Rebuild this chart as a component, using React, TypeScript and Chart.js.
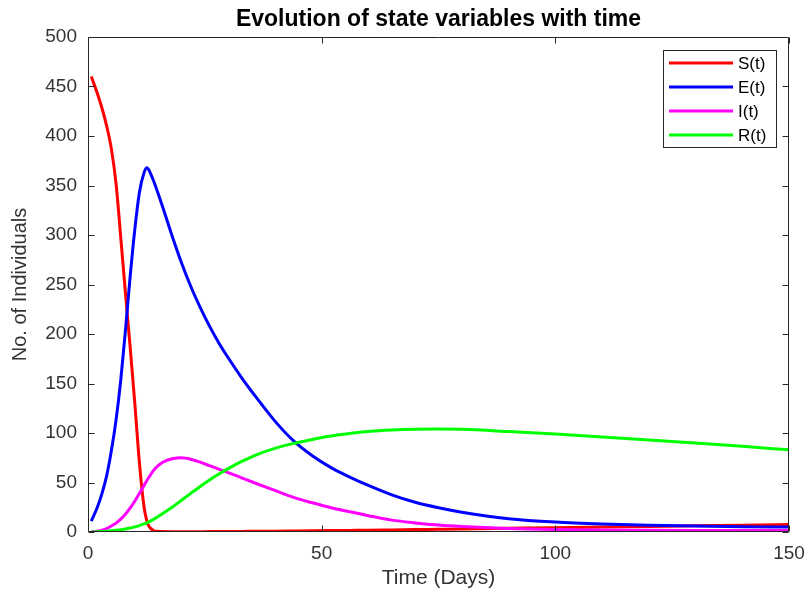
import React, { useEffect, useRef } from "react";
import { Chart, registerables } from "chart.js";

Chart.register(...registerables);

const TITLE = "Evolution of state variables with time";
const X_LABEL = "Time (Days)";
const Y_LABEL = "No. of Individuals";
const SERIES_NAMES = ["S(t)", "E(t)", "I(t)", "R(t)"];
const SERIES_COLORS = ["#ff0000", "#0000ff", "#ff00ff", "#00ff00"];
const X_TICKS = [0, 50, 100, 150];
const Y_TICKS = [0, 50, 100, 150, 200, 250, 300, 350, 400, 450, 500];

const TIME = [
  0.7, 2, 3, 4, 5, 6, 7, 8, 9, 10,
  11, 12, 12.6, 13, 14, 15, 16, 18, 20, 22,
  24, 26, 28, 30, 33, 36, 40, 44, 48, 52,
  56, 60, 65, 70, 75, 80, 90, 100, 110, 120,
  130, 140, 150,
];

const S_VALUES = [
  460, 443, 428, 410, 387, 352, 298, 242, 188, 131,
  70, 25, 11, 6, 1.5, 0.6, 0.4, 0.3, 0.3, 0.3,
  0.35, 0.4, 0.45, 0.5, 0.6, 0.7, 0.8, 1.0, 1.2, 1.4,
  1.6, 1.8, 2.1, 2.4, 2.7, 3.0, 3.7, 4.4, 5.0, 5.6,
  6.2, 6.9, 7.5,
];

const E_VALUES = [
  11, 25, 39, 57, 82, 113, 153, 203, 257, 305,
  343, 363, 368, 366, 355, 342, 328, 299, 272, 248,
  227, 208, 191, 176, 155, 136, 112, 92, 77, 65,
  55.5, 47, 37.5, 30, 24.5, 20, 13.5, 10, 8, 6.8,
  6, 5.4, 5,
];

const I_VALUES = [
  0, 0.8, 1.8, 3.5, 6, 9, 13, 18, 24, 31,
  39, 47, 52, 55, 62, 67, 70.5, 74, 75, 73.5,
  70.5, 67, 63.5, 60, 54.5, 49, 42, 35, 29.5, 24.5,
  20.5, 16.5, 12, 9.2, 7, 5.5, 3.5, 2.5, 2, 1.8,
  1.6, 1.5, 1.5,
];

const R_VALUES = [
  0, 0.2, 0.5, 0.8, 1.2, 1.7, 2.3, 3, 4, 5.2,
  6.5, 8.2, 9.3, 10.2, 12.8, 15.6, 18.6, 25, 32, 39,
  46, 52.5, 58.5, 64, 71.5, 78, 84.5, 89.5, 93.5, 97,
  99.5, 101.5, 103, 103.8, 104, 103.7, 101.5, 99, 96, 93,
  89.8, 86.5, 83,
];

const SERIES_VALUES = [S_VALUES, E_VALUES, I_VALUES, R_VALUES];

const FONT = "'Liberation Sans', Arial, Helvetica, sans-serif";
const AXIS_COLOR = "#262626";
const TEXT_COLOR = "#333333";

const framePlugin = {
  id: "matlabFrame",
  afterDatasetsDraw(chart: any) {
    const { ctx, chartArea: a, scales } = chart;
    const L = Math.round(a.left) + 0.5;
    const R = Math.round(a.right) - 0.5;
    const T = Math.round(a.top) + 0.5;
    const B = Math.round(a.bottom) - 0.5;
    const tick = 6;
    ctx.save();
    ctx.strokeStyle = AXIS_COLOR;
    ctx.lineWidth = 1;
    ctx.beginPath();
    ctx.rect(L, T, R - L, B - T);
    for (const v of X_TICKS) {
      const px = Math.round(scales.x.getPixelForValue(v)) + 0.5;
      ctx.moveTo(px, B);
      ctx.lineTo(px, B - tick);
      ctx.moveTo(px, T);
      ctx.lineTo(px, T + tick);
    }
    for (const v of Y_TICKS) {
      const py = Math.round(scales.y.getPixelForValue(v)) + 0.5;
      ctx.moveTo(L, py);
      ctx.lineTo(L + tick, py);
      ctx.moveTo(R, py);
      ctx.lineTo(R - tick, py);
    }
    ctx.stroke();
    ctx.restore();
  },
};

const legendPlugin = {
  id: "matlabLegend",
  afterDraw(chart: any) {
    const { ctx, chartArea: a } = chart;
    const w = 114;
    const rowH = 24;
    const n = chart.data.datasets.length;
    const h = n * rowH + 2;
    const right = Math.round(a.right) - 12;
    const left = right - w;
    const top = Math.round(a.top) + 13;
    ctx.save();
    ctx.fillStyle = "#ffffff";
    ctx.fillRect(left, top, w, h);
    ctx.strokeStyle = AXIS_COLOR;
    ctx.lineWidth = 1;
    ctx.strokeRect(left + 0.5, top + 0.5, w - 1, h - 1);
    ctx.font = `17px ${FONT}`;
    ctx.textBaseline = "middle";
    ctx.textAlign = "left";
    chart.data.datasets.forEach((ds: any, i: number) => {
      const cy = top + 13 + i * rowH;
      ctx.strokeStyle = ds.borderColor;
      ctx.lineWidth = 3;
      ctx.beginPath();
      ctx.moveTo(left + 6, cy);
      ctx.lineTo(left + 70, cy);
      ctx.stroke();
      ctx.fillStyle = "#000000";
      ctx.fillText(ds.label, left + 75, cy + 1);
    });
    ctx.restore();
  },
};

export default function App() {
  const canvasRef = useRef<HTMLCanvasElement | null>(null);

  useEffect(() => {
    const canvas = canvasRef.current;
    if (!canvas) return;
    const datasets = SERIES_NAMES.map((name, i) => ({
      label: name,
      data: TIME.map((t, j) => ({ x: t, y: SERIES_VALUES[i][j] })),
      borderColor: SERIES_COLORS[i],
      backgroundColor: SERIES_COLORS[i],
      borderWidth: 3,
      pointRadius: 0,
      fill: false,
      cubicInterpolationMode: "monotone" as const,
      order: SERIES_NAMES.length - i,
    }));

    const chart = new Chart(canvas, {
      type: "line",
      data: { datasets },
      options: {
        animation: false,
        responsive: true,
        maintainAspectRatio: false,
        layout: { padding: { top: 0, right: 19, bottom: 0, left: 0 } },
        plugins: {
          legend: { display: false },
          tooltip: { enabled: false },
          title: {
            display: true,
            text: TITLE,
            fullSize: false,
            color: "#000000",
            font: { family: FONT, size: 23, weight: "bold" },
            padding: { top: 6, bottom: 3.4 },
          },
        },
        scales: {
          x: {
            type: "linear",
            min: 0,
            max: 150,
            afterBuildTicks: (s: any) => {
              s.ticks = X_TICKS.map((v) => ({ value: v }));
            },
            afterFit: (s: any) => {
              s.height = 65;
              s.paddingLeft = 0;
              s.paddingRight = 0;
            },
            grid: { display: false, drawTicks: false },
            border: { display: false },
            ticks: {
              color: TEXT_COLOR,
              font: { family: FONT, size: 19 },
              padding: 10,
              maxRotation: 0,
              autoSkip: false,
            },
            title: {
              display: true,
              text: X_LABEL,
              color: TEXT_COLOR,
              font: { family: FONT, size: 21 },
              padding: { top: 0, bottom: 6 },
            },
          },
          y: {
            type: "linear",
            min: 0,
            max: 500,
            afterBuildTicks: (s: any) => {
              s.ticks = Y_TICKS.map((v) => ({ value: v }));
            },
            afterFit: (s: any) => {
              s.width = 88;
              s.paddingTop = 0;
              s.paddingBottom = 0;
            },
            grid: { display: false, drawTicks: false },
            border: { display: false },
            ticks: {
              color: TEXT_COLOR,
              font: { family: FONT, size: 19 },
              padding: 11,
              autoSkip: false,
            },
            title: {
              display: true,
              text: Y_LABEL,
              color: TEXT_COLOR,
              font: { family: FONT, size: 20 },
              padding: { top: 8, bottom: 0 },
            },
          },
        },
      },
      plugins: [framePlugin, legendPlugin],
    });

    return () => {
      chart.destroy();
    };
  }, []);

  return (
    <div
      style={{
        position: "absolute",
        left: 0,
        top: 0,
        width: 808,
        height: 597,
        background: "#ffffff",
      }}
    >
      <canvas ref={canvasRef} />
    </div>
  );
}
